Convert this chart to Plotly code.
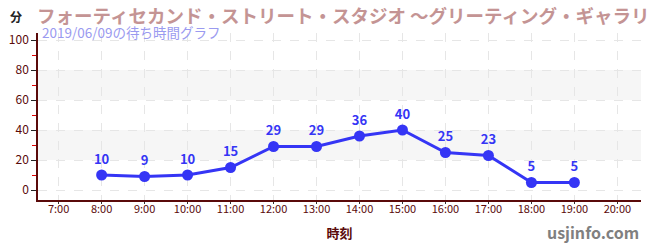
import plotly.graph_objects as go

hours = [8, 9, 10, 11, 12, 13, 14, 15, 16, 17, 18, 19]
waits = [10, 9, 10, 15, 29, 29, 36, 40, 25, 23, 5, 5]
tick_hours = list(range(7, 21))
tick_labels = [f"{h}:00" for h in tick_hours]
y_ticks = [0, 20, 40, 60, 80, 100]
bands = [(20, 40), (60, 80)]

title = "フォーティセカンド・ストリート・スタジオ ～グリーティング・ギャラリー～"
subtitle = "2019/06/09の待ち時間グラフ"

FONT = "Noto Sans CJK JP"
AX = "#5a0a0a"
BLUE = "#3535f5"

fig = go.Figure()
fig.add_trace(go.Scatter(
    x=hours, y=waits, mode="lines+markers+text",
    text=[str(v) for v in waits], textposition="top center",
    textfont=dict(family=FONT, size=13, color=BLUE, weight="bold"),
    line=dict(color=BLUE, width=3),
    marker=dict(color=BLUE, size=11),
    cliponaxis=False, hoverinfo="skip",
))

shapes = []
for y0, y1 in bands:
    shapes.append(dict(type="rect", xref="paper", yref="y", x0=0, x1=1, y0=y0, y1=y1,
                       fillcolor="#f6f6f6", line=dict(width=0), layer="below"))

fig.update_layout(
    width=650, height=250,
    margin=dict(l=31, r=9, t=33, b=50),
    paper_bgcolor="white", plot_bgcolor="white",
    showlegend=False, shapes=shapes,
    font=dict(family=FONT, color=AX),
    xaxis=dict(
        range=[6.52, 20.55], tickmode="array", tickvals=tick_hours, ticktext=tick_labels,
        showgrid=True, gridcolor="#e6e6e6", griddash="dash", gridwidth=1,
        showline=True, linecolor=AX, linewidth=1.5,
        ticks="outside", ticklen=2, tickcolor="#333", zeroline=False,
        ticklabelstandoff=-4,
        tickfont=dict(family=FONT, size=11, color=AX),
        title=dict(text="時刻", font=dict(family=FONT, size=13, color=AX, weight="bold"), standoff=14),
    ),
    yaxis=dict(
        range=[-6.67, 104.67], tickmode="array", tickvals=y_ticks,
        showgrid=True, gridcolor="#e6e6e6", griddash="dash", gridwidth=1,
        showline=True, linecolor=AX, linewidth=1.5,
        ticks="outside", ticklen=5, tickcolor="#222", zeroline=False,
        tickfont=dict(family=FONT, size=12, color=AX),
        minor=dict(tickvals=[10, 30, 50, 70, 90], ticks="outside", ticklen=4, tickcolor="#e00000", showgrid=False),
    ),
    annotations=[
        dict(text="分", xref="paper", yref="paper", x=0.0, y=1.0, xshift=-22, yshift=17, xanchor="center", yanchor="middle",
             showarrow=False, font=dict(family=FONT, size=12, color="#222", weight="bold")),
        dict(text=title, xref="paper", yref="paper", x=0.0, y=1.0, xshift=-3, yshift=18, xanchor="left", yanchor="middle",
             showarrow=False, font=dict(family=FONT, size=18.5, color="#c49494", weight="bold")),
        dict(text=subtitle, xref="paper", yref="paper", x=0.0, y=1.0, xshift=2, yshift=1, xanchor="left", yanchor="middle",
             showarrow=False, font=dict(family=FONT, size=13.5, color="#9a9af0")),
        dict(text="usjinfo.com", xref="paper", yref="paper", x=1.0, y=0, yshift=-32, xanchor="right", yanchor="middle",
             showarrow=False, font=dict(family=FONT, size=16, color="#808080", weight="bold")),
    ],
)

fig.write_html("out.html")
